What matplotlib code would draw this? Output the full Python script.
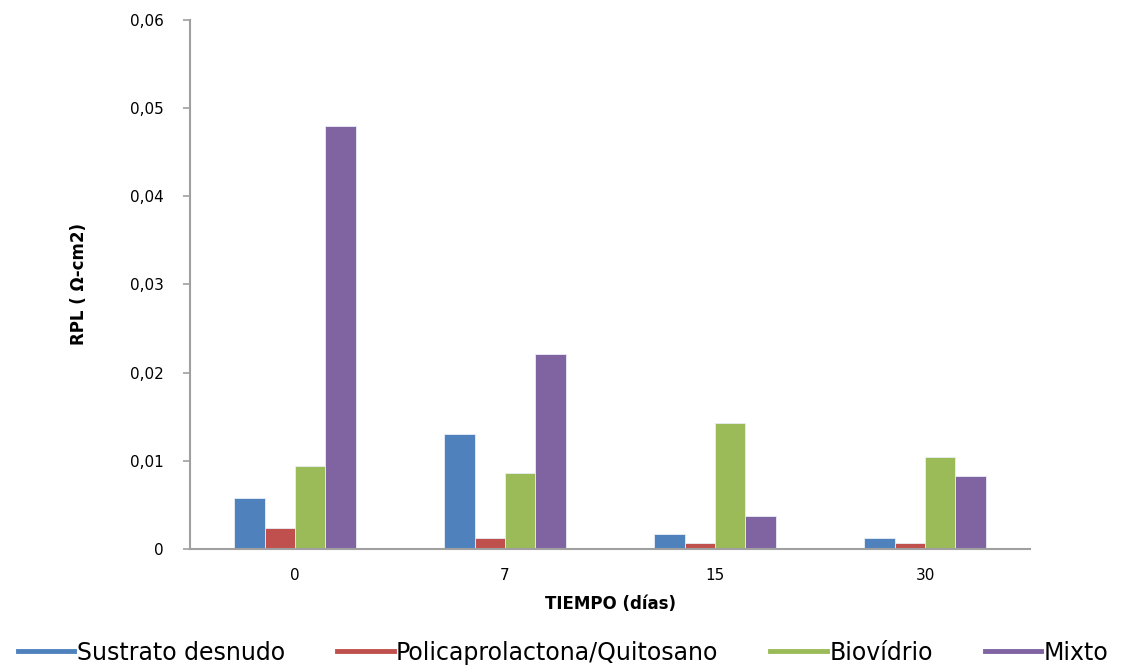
import matplotlib
matplotlib.use("Agg")
import matplotlib.pyplot as plt
import numpy as np
from matplotlib.ticker import FuncFormatter

dias = ["0", "7", "15", "30"]
series = ["Sustrato desnudo", "Policaprolactona/Quitosano", "Biovídrio", "Mixto"]
sustrato = [0.0058, 0.0130, 0.0017, 0.0012]
policap = [0.0024, 0.0012, 0.0007, 0.0007]
biovidrio = [0.0094, 0.0086, 0.0143, 0.0104]
mixto = [0.0480, 0.0221, 0.0037, 0.0083]
colores = ["#4F81BD", "#C0504D", "#9BBB59", "#8064A2"]

fig = plt.figure(figsize=(11.33, 6.66), dpi=100)
ax = fig.add_axes([0.1677, 0.1757, 0.7414, 0.7943])

x = np.arange(len(dias))
w = 0.145
datos = [sustrato, policap, biovidrio, mixto]
for i, (vals, c) in enumerate(zip(datos, colores)):
    ax.bar(x + (i - 1.5) * w, vals, w, color=c, edgecolor="#e8eef6", linewidth=0.6,
           label=series[i])

ax.set_xlim(-0.5, 3.5)
ax.set_ylim(0, 0.06)
ax.set_yticks(np.arange(0, 0.061, 0.01))
ax.yaxis.set_major_formatter(FuncFormatter(lambda v, p: "0" if v == 0 else f"{v:.2f}".replace(".", ",")))
ax.set_xticks(x)
ax.set_xticklabels(dias)
ax.tick_params(axis="x", length=0, pad=14, labelsize=11)
ax.tick_params(axis="y", length=5, color="#a0a0a0", width=1.2, pad=14, labelsize=11)
for s in ["top", "right"]:
    ax.spines[s].set_visible(False)
for s in ["left", "bottom"]:
    ax.spines[s].set_color("#a0a0a0")
    ax.spines[s].set_linewidth(1.5)

ax.set_xlabel("TIEMPO (días)", fontsize=12, fontweight="bold", labelpad=8)
ax.set_ylabel("RPL ( Ω-cm2)", fontsize=12, fontweight="bold", labelpad=30)

handles = [plt.Line2D([0], [0], color=c, lw=3.5) for c in colores]
fig.legend(handles, series, loc="lower center", bbox_to_anchor=(0.497, -0.03), ncol=4,
           frameon=False, fontsize=17, handlelength=2.4, handletextpad=0.1,
           columnspacing=2.2)

fig.savefig("out.png", dpi=100)
